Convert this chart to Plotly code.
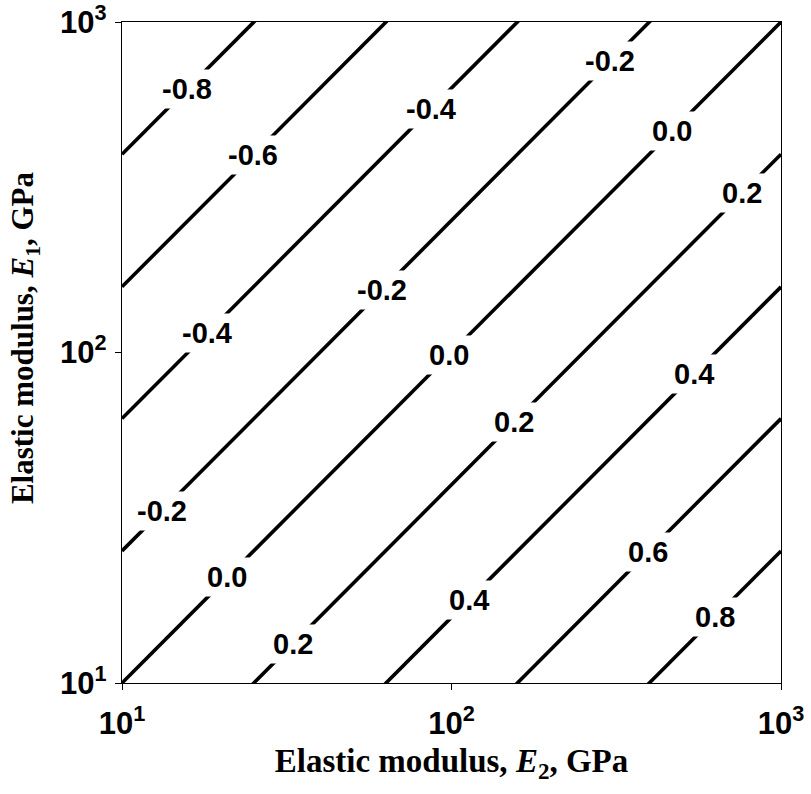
import math
import plotly.graph_objects as go

# contour levels and the E1/E2 ratio along each (straight line in log-log)
levels = [-0.8, -0.6, -0.4, -0.2, 0.0, 0.2, 0.4, 0.6, 0.8]
ratio_e1_e2 = [39.8, 15.8, 6.31, 2.51, 1.0, 0.398, 0.158, 0.0631, 0.0251]

# E2 positions (GPa) of the inline labels for each level
label_e2 = {
    -0.8: [15.8],
    -0.6: [25.0],
    -0.4: [18.1, 86.7],
    -0.2: [13.2, 61.5, 303],
    0.0: [20.9, 98.4, 468],
    0.2: [33.0, 155, 764],
    0.4: [113, 546],
    0.6: [395],
    0.8: [632],
}

x_span = [10, 1000]
tick_vals = [10, 100, 1000]
tick_text = ["<b>10<sup>1</sup></b>", "<b>10<sup>2</sup></b>", "<b>10<sup>3</sup></b>"]

fig = go.Figure()
for lev, r in zip(levels, ratio_e1_e2):
    fig.add_trace(go.Scatter(
        x=x_span, y=[r * v for v in x_span], mode="lines",
        line=dict(color="black", width=3.6), showlegend=False, hoverinfo="skip"))

annos = []
for lev, r in zip(levels, ratio_e1_e2):
    for e2 in label_e2[lev]:
        annos.append(dict(
            x=math.log10(e2), y=math.log10(r * e2), xref="x", yref="y", showarrow=False,
            text="<b>%.1f</b>" % lev, bgcolor="white", borderpad=3,
            font=dict(family="Arial, Liberation Sans, sans-serif", size=29, color="black")))

# y-axis title as a rotated annotation
annos.append(dict(
    x=-0.146, y=0.523, xref="paper", yref="paper", showarrow=False,
    xanchor="center", yanchor="middle", textangle=-90,
    text="<b>Elastic modulus, <i>E</i><sub>1</sub>, GPa</b>",
    font=dict(family="Times New Roman, Liberation Serif, serif", size=31, color="black")))

axis_common = dict(
    type="log", range=[1, 3], tickvals=tick_vals, ticktext=tick_text,
    ticks="outside", ticklen=6, tickwidth=1.3, tickcolor="black",
    showline=True, linecolor="black", linewidth=1.3, mirror=True,
    showgrid=False, zeroline=False, automargin=False,
    ticklabeloverflow="allow",
    tickfont=dict(family="Arial, Liberation Sans, sans-serif", size=31, color="black"),
)

fig.update_layout(
    width=811, height=794,
    margin=dict(l=122, r=30, t=22, b=111),
    plot_bgcolor="white", paper_bgcolor="white",
    annotations=annos,
    xaxis=dict(**axis_common, ticklabelstandoff=7,
               title=dict(text="<b>Elastic modulus, <i>E</i><sub>2</sub>, GPa</b>",
                          font=dict(family="Times New Roman, Liberation Serif, serif", size=33, color="black"),
                          standoff=8)),
    yaxis=dict(**axis_common, ticklabelstandoff=2),
)

fig.write_html("out.html")
